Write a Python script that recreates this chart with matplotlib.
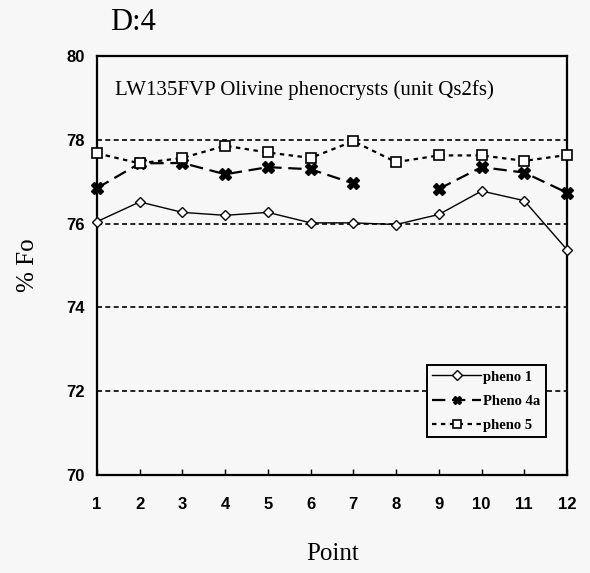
import numpy as np
import matplotlib.pyplot as plt

# data
points = list(range(1, 13))
pheno1 = [76.05, 76.52, 76.27, 76.2, 76.27, 76.02, 76.02, 75.98, 76.22, 76.78, 76.55, 75.38]
pheno4a = [76.85, 77.44, 77.45, 77.18, 77.35, 77.3, 76.96, np.nan, 76.83, 77.35, 77.22, 76.74]
pheno5 = [77.68, 77.44, 77.57, 77.86, 77.7, 77.57, 77.97, 77.47, 77.63, 77.63, 77.5, 77.64]
grid_levels = [72, 74, 76, 78]
y_ticks = [70, 72, 74, 76, 78, 80]

serif = 'Liberation Serif'
sans = 'Liberation Sans'
bg = '#f7f7f7'

fig = plt.figure(figsize=(5.9, 5.73), dpi=100)
fig.patch.set_facecolor(bg)
ax = fig.add_axes([0.1644, 0.171, 0.7966, 0.731])
ax.set_facecolor(bg)

# dashed horizontal gridlines
for g in grid_levels:
    ax.axhline(g, color='black', lw=1.2, ls=(0, (3, 2)), zorder=1)

ax.plot(points, pheno1, color='black', lw=1.0, ls='-', marker='D', ms=5,
        mfc='white', mec='black', mew=1.0, label='pheno 1', zorder=3, clip_on=False)
ax.plot(points, pheno4a, color='black', lw=1.6, ls=(0, (6, 3)), marker='X', ms=8,
        mfc='black', mec='black', label='Pheno 4a', zorder=3, clip_on=False)
ax.plot(points, pheno5, color='black', lw=1.6, ls=(0, (2, 2)), marker='s', ms=7,
        mfc='white', mec='black', mew=1.2, label='pheno 5', zorder=3, clip_on=False)

ax.set_xlim(1, 12)
ax.set_ylim(70, 80)
ax.set_xticks(points)
ax.set_yticks(y_ticks)
ax.tick_params(axis='x', direction='in', length=4, width=1, pad=16)
ax.tick_params(axis='y', length=0, pad=9)
for lab in ax.get_xticklabels() + ax.get_yticklabels():
    lab.set_fontfamily(sans)
    lab.set_fontweight('bold')
    lab.set_fontsize(12)
for s in ax.spines.values():
    s.set_linewidth(1.6)

ax.text(0.038, 0.919, 'LW135FVP Olivine phenocrysts (unit Qs2fs)', transform=ax.transAxes,
        fontfamily=serif, fontsize=15, va='center', ha='left')
ax.set_xlabel('Point', fontfamily=serif, fontsize=18)
ax.set_ylabel('% Fo', fontfamily=serif, fontsize=18)
ax.xaxis.set_label_coords(0.502, -0.162)
ax.yaxis.set_label_coords(-0.124, 0.5)
fig.text(0.186, 0.96, 'D:4', fontfamily=serif, fontsize=22, va='center', ha='left')

leg = ax.legend(loc='lower right', bbox_to_anchor=(0.955, 0.091), fancybox=False,
                framealpha=1, edgecolor='black', handlelength=3.3, handletextpad=0.2,
                borderpad=0.35, borderaxespad=0, labelspacing=0.75,
                prop={'family': serif, 'size': 10.5, 'weight': 'bold'})
leg.get_frame().set_linewidth(1.4)
leg.get_frame().set_facecolor(bg)
for h in leg.legend_handles:
    h.set_markersize(5.5)

fig.savefig('out.png', dpi=100, facecolor=fig.get_facecolor())
